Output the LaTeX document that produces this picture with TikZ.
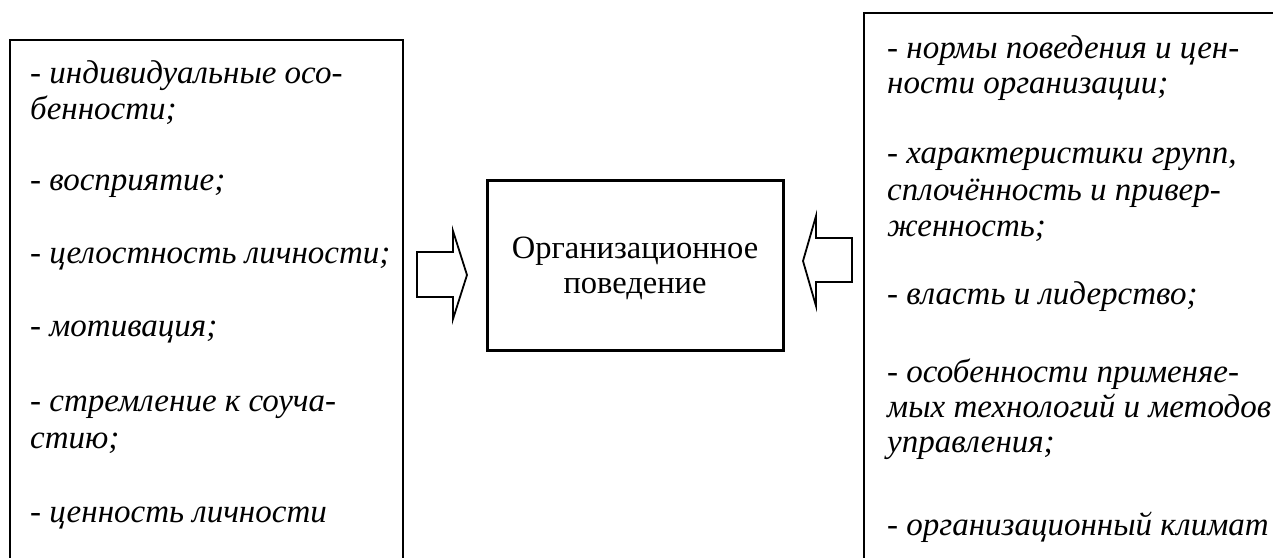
\documentclass[tikz,border=0pt]{standalone}
\usepackage{fontspec}
\setmainfont{Liberation Serif}
\begin{document}
\begin{tikzpicture}[x=1pt,y=-1pt,
  itx/.style={anchor=base west, inner sep=0pt, font=\fontsize{33}{36.5}\selectfont\itshape},
  ctx/.style={anchor=base, inner sep=0pt, font=\fontsize{32.5}{35}\selectfont},
  framebox/.style={draw, line width=2pt},
  centerbox/.style={draw, line width=3pt, minimum width=296pt, minimum height=170pt, inner sep=0pt},
  blockarrow/.style={draw, line width=1.8pt, line join=miter}]
\useasboundingbox (0,0) rectangle (1273,557);
\clip (0,0) rectangle (1273,557);
% outer frames (their lower and right parts lie beyond the picture)
\draw[framebox] (10,40) rectangle (403,620);
\draw[framebox] (864,13) rectangle (1320,620);
% centre box
\node[centerbox] (ob) at (635,265) {};
\node[ctx] (c1) at (635,258) {Организационное};
\node[ctx] (c2) at (635,293) {поведение};
% left texts
\node[itx] (l1) at (30,83) {- индивидуальные осо-};
\node[itx] (l2) at (30,119.5) {бенности;};
\node[itx] (l3) at (30,190) {- восприятие;};
\node[itx] (l4) at (30,263) {- целостность личности;};
\node[itx] (l5) at (30,336) {- мотивация;};
\node[itx] (l6) at (30,411) {- стремление к соуча-};
\node[itx] (l7) at (30,448) {стию;};
\node[itx] (l8) at (30,522) {- ценность личности};
% right texts
\node[itx] (r1) at (887,58) {- нормы поведения и цен-};
\node[itx] (r2) at (887,93) {ности организации;};
\node[itx] (r3) at (887,163) {- характеристики групп,};
\node[itx] (r4) at (887,200) {сплочённость и привер-};
\node[itx] (r5) at (887,236.5) {женность;};
\node[itx] (r6) at (887,304) {- власть и лидерство;};
\node[itx] (r7) at (887,382) {- особенности применяе-};
\node[itx] (r8) at (887,417) {мых технологий и методов};
\node[itx] (r9) at (887,452) {управления;};
\node[itx] (r10) at (887,535) {- организационный климат};
% block arrows
\draw[blockarrow] (417,252) -- (453,252) -- (453,231) -- (467,275) -- (453,319) -- (453,297) -- (417,297) -- cycle;
\draw[blockarrow] (852,238) -- (816,238) -- (816,216) -- (803,261) -- (816,306) -- (816,282) -- (852,282) -- cycle;
\end{tikzpicture}
\end{document}
